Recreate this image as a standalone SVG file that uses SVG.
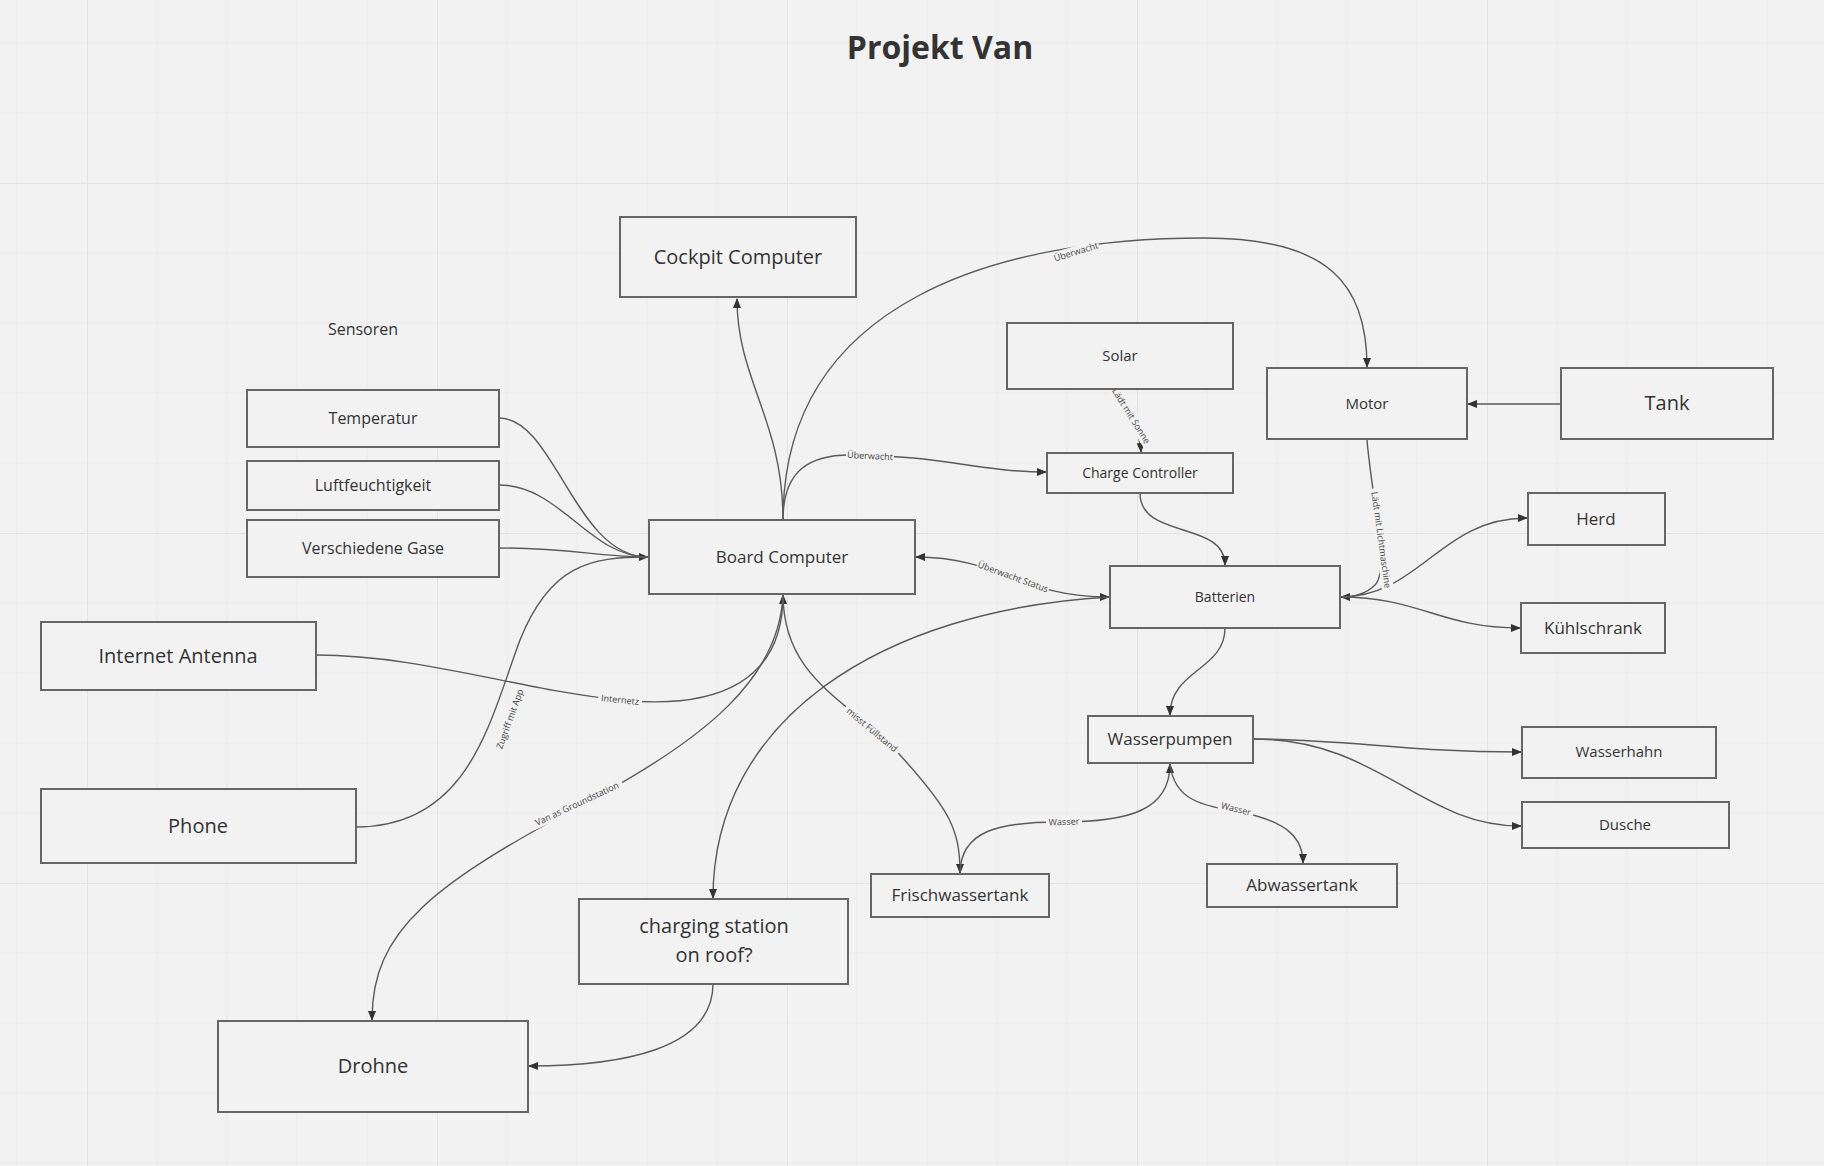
<svg xmlns="http://www.w3.org/2000/svg" width="1824" height="1166" viewBox="0 0 1824 1166">
<style>
.box{fill:#f2f2f2;stroke:#666;stroke-width:2}
.t{font-family:"Open Sans","Liberation Sans",sans-serif;fill:#333;text-anchor:middle}
.e{fill:none;stroke:#5a5a5a;stroke-width:1.4}
.lb{font-family:"Open Sans","Liberation Sans",sans-serif;font-size:9px;fill:#444;text-anchor:middle}
.lbg{fill:#f2f2f2}
</style>
<defs>
<pattern id="grid" width="350" height="350" patternUnits="userSpaceOnUse" patternTransform="translate(87,183)">
<path d="M70 0V350M140 0V350M210 0V350M280 0V350M0 70H350M0 140H350M0 210H350M0 280H350" stroke="#ebebeb" stroke-width="1.2" fill="none"/>
<path d="M0 0V350M0 0H350" stroke="#e3e3e3" stroke-width="2" fill="none"/>
</pattern>
<marker id="ar" markerWidth="10" markerHeight="8" refX="9" refY="4" orient="auto-start-reverse" markerUnits="userSpaceOnUse">
<path d="M0,0 L10,4 L0,8 z" fill="#333"/>
</marker>
</defs>
<rect width="1824" height="1166" fill="#f2f2f2"/>
<rect width="1824" height="1166" fill="url(#grid)"/>

<text class="t" x="940" y="59" font-size="32" font-weight="bold" fill="#222">Projekt Van</text>
<text class="t" x="363" y="335" font-size="16" fill="#555">Sensoren</text>

<g id="connectors">
<path class="e" d="M783 520 C783 420 737 380 737 299" marker-end="url(#ar)"/>
<path class="e" d="M783 520 C783 300 1000 238 1204 238 C1330 238 1367 285 1367 367" marker-end="url(#ar)"/>
<path class="e" d="M783 520 C783 470 810 455 850 455 C940 455 980 472 1046 472" marker-end="url(#ar)"/>
<path class="e" d="M916 557 C1000 557 1020 597 1109 597" marker-start="url(#ar)" marker-end="url(#ar)"/>
<path class="e" d="M1110 597 C880 610 713 720 713 898" marker-end="url(#ar)"/>
<path class="e" d="M499 418 C555 418 575 557 648 557" marker-end="url(#ar)"/>
<path class="e" d="M499 485 C560 485 590 557 648 557"/>
<path class="e" d="M499 548 C570 548 600 557 648 557"/>
<path class="e" d="M356 827 C470 827 490 720 520 640 C550 565 590 557 648 557"/>
<path class="e" d="M316 655 C420 655 520 690 620 700 C720 710 783 680 783 595" marker-end="url(#ar)"/>
<path class="e" d="M783 594 C780 680 700 740 600 795 C430 885 372 930 372 1020" marker-end="url(#ar)"/>
<path class="e" d="M783 594 C783 680 850 700 900 755 C950 810 960 830 960 873" marker-end="url(#ar)"/>
<path class="e" d="M1117 389 C1125 410 1140 430 1141 452" marker-end="url(#ar)"/>
<path class="e" d="M1140 493 C1140 540 1225 520 1225 565" marker-end="url(#ar)"/>
<path class="e" d="M1367 440 C1372 500 1390 570 1375 585 C1365 595 1352 597 1341 597" marker-end="url(#ar)"/>
<path class="e" d="M1340 597 C1420 597 1440 518 1527 518" marker-end="url(#ar)"/>
<path class="e" d="M1340 597 C1420 597 1440 628 1520 628" marker-end="url(#ar)"/>
<path class="e" d="M1225 628 C1225 670 1170 670 1170 715" marker-end="url(#ar)"/>
<path class="e" d="M1561 404 L1468 404" marker-end="url(#ar)"/>
<path class="e" d="M1253 739 C1350 739 1400 752 1521 752" marker-end="url(#ar)"/>
<path class="e" d="M1253 739 C1380 739 1420 826 1521 826" marker-end="url(#ar)"/>
<path class="e" d="M960 874 C960 830 1000 822 1060 822 C1130 822 1170 810 1170 764" marker-end="url(#ar)"/>
<path class="e" d="M1170 765 C1175 800 1200 805 1240 812 C1290 822 1303 840 1303 863" marker-end="url(#ar)"/>
<path class="e" d="M713 984 C713 1050 620 1066 529 1066" marker-end="url(#ar)"/>

<g transform="translate(1076,252) rotate(-17)"><rect class="lbg" x="-24" y="-6" width="48" height="12"/><text class="lb" y="3">Überwacht</text></g>
<g transform="translate(870,456) rotate(3)"><rect class="lbg" x="-24" y="-6" width="48" height="12"/><text class="lb" y="3">Überwacht</text></g>
<g transform="translate(1013,577) rotate(20)"><rect class="lbg" x="-38" y="-6" width="76" height="12"/><text class="lb" y="3">Überwacht Status</text></g>
<g transform="translate(1131,416) rotate(58)"><rect class="lbg" x="-33" y="-6" width="66" height="12"/><text class="lb" y="3">Lädt mit Sonne</text></g>
<g transform="translate(1381,540) rotate(82)"><rect class="lbg" x="-52" y="-6" width="104" height="12"/><text class="lb" y="3">Lädt mit Lichtmaschine</text></g>
<g transform="translate(620,700) rotate(6)"><rect class="lbg" x="-22" y="-6" width="44" height="12"/><text class="lb" y="3">Internetz</text></g>
<g transform="translate(510,719) rotate(-70)"><rect class="lbg" x="-35" y="-6" width="70" height="12"/><text class="lb" y="3">Zugriff mit App</text></g>
<g transform="translate(577,804) rotate(-25)"><rect class="lbg" x="-50" y="-6" width="100" height="12"/><text class="lb" y="3">Van as Groundstation</text></g>
<g transform="translate(872,730) rotate(40)"><rect class="lbg" x="-35" y="-6" width="70" height="12"/><text class="lb" y="3">misst Füllstand</text></g>
<g transform="translate(1064,822) rotate(-2)"><rect class="lbg" x="-18" y="-6" width="36" height="12"/><text class="lb" y="3">Wasser</text></g>
<g transform="translate(1236,809) rotate(14)"><rect class="lbg" x="-18" y="-6" width="36" height="12"/><text class="lb" y="3">Wasser</text></g>
</g>

<g id="n-cockpit"><rect class="box" x="620" y="217" width="236" height="80"/><text class="t" x="738" y="264" font-size="20">Cockpit Computer</text></g>
<g id="n-temperatur"><rect class="box" x="247" y="390" width="252" height="57"/><text class="t" x="373" y="424" font-size="16">Temperatur</text></g>
<g id="n-luft"><rect class="box" x="247" y="461" width="252" height="49"/><text class="t" x="373" y="491" font-size="16">Luftfeuchtigkeit</text></g>
<g id="n-gase"><rect class="box" x="247" y="520" width="252" height="57"/><text class="t" x="373" y="554" font-size="16">Verschiedene Gase</text></g>
<g id="n-board"><rect class="box" x="649" y="520" width="266" height="74"/><text class="t" x="782" y="563" font-size="17">Board Computer</text></g>
<g id="n-solar"><rect class="box" x="1007" y="323" width="226" height="66"/><text class="t" x="1120" y="361" font-size="15">Solar</text></g>
<g id="n-cc"><rect class="box" x="1047" y="453" width="186" height="40"/><text class="t" x="1140" y="478" font-size="14">Charge Controller</text></g>
<g id="n-motor"><rect class="box" x="1267" y="368" width="200" height="71"/><text class="t" x="1367" y="409" font-size="15">Motor</text></g>
<g id="n-tank"><rect class="box" x="1561" y="368" width="212" height="71"/><text class="t" x="1667" y="410" font-size="20">Tank</text></g>
<g id="n-batterien"><rect class="box" x="1110" y="566" width="230" height="62"/><text class="t" x="1225" y="602" font-size="14">Batterien</text></g>
<g id="n-herd"><rect class="box" x="1528" y="493" width="137" height="52"/><text class="t" x="1596" y="525" font-size="17">Herd</text></g>
<g id="n-kuehl"><rect class="box" x="1521" y="603" width="144" height="50"/><text class="t" x="1593" y="634" font-size="17">Kühlschrank</text></g>
<g id="n-internet"><rect class="box" x="41" y="622" width="275" height="68"/><text class="t" x="178" y="663" font-size="20">Internet Antenna</text></g>
<g id="n-phone"><rect class="box" x="41" y="789" width="315" height="74"/><text class="t" x="198" y="833" font-size="20">Phone</text></g>
<g id="n-pumpen"><rect class="box" x="1088" y="716" width="165" height="47"/><text class="t" x="1170" y="745" font-size="17">Wasserpumpen</text></g>
<g id="n-frisch"><rect class="box" x="871" y="874" width="178" height="43"/><text class="t" x="960" y="901" font-size="17">Frischwassertank</text></g>
<g id="n-abwasser"><rect class="box" x="1207" y="864" width="190" height="43"/><text class="t" x="1302" y="891" font-size="17">Abwassertank</text></g>
<g id="n-hahn"><rect class="box" x="1522" y="727" width="194" height="51"/><text class="t" x="1619" y="757" font-size="15">Wasserhahn</text></g>
<g id="n-dusche"><rect class="box" x="1522" y="802" width="207" height="46"/><text class="t" x="1625" y="830" font-size="15">Dusche</text></g>
<g id="n-charging"><rect class="box" x="579" y="899" width="269" height="85"/><text class="t" x="714" y="933" font-size="20">charging station</text><text class="t" x="714" y="962" font-size="20">on roof?</text></g>
<g id="n-drohne"><rect class="box" x="218" y="1021" width="310" height="91"/><text class="t" x="373" y="1073" font-size="20">Drohne</text></g>
</svg>
